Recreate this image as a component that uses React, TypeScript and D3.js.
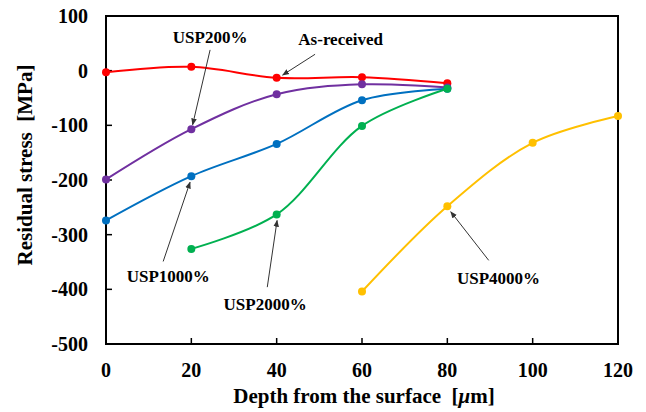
import React from "react";
import * as d3 from "d3";

// depth in µm, residual stress in MPa
const asReceivedX = [0, 20, 40, 60, 80];
const asReceivedY = [-3, 7, -13, -12, -23];
const usp200X = [0, 20, 40, 60, 80];
const usp200Y = [-199, -107, -43, -25, -31];
const usp1000X = [0, 20, 40, 60, 80];
const usp1000Y = [-274, -193, -134, -54, -33];
const usp2000X = [20, 40, 60, 80];
const usp2000Y = [-326, -263, -101, -33];
const usp4000X = [60, 80, 100, 120];
const usp4000Y = [-404, -248, -132, -83];

const xTicks = [0, 20, 40, 60, 80, 100, 120];
const yTicks = [100, 0, -100, -200, -300, -400, -500];

const series = [
  { name: "As-received", xs: asReceivedX, ys: asReceivedY, color: "#ff0000" },
  { name: "USP200%", xs: usp200X, ys: usp200Y, color: "#7030a0" },
  { name: "USP1000%", xs: usp1000X, ys: usp1000Y, color: "#0070c0" },
  { name: "USP2000%", xs: usp2000X, ys: usp2000Y, color: "#00b050" },
  { name: "USP4000%", xs: usp4000X, ys: usp4000Y, color: "#ffc000" },
];

// label text position and arrow (tail -> tip), in data units
const notes = [
  { text: "USP200%", tx: 24.4, ty: 51, x1: 24.4, y1: 38, x2: 20.3, y2: -99 },
  { text: "As-received", tx: 55, ty: 47, x1: 49, y1: 30, x2: 41.4, y2: -8 },
  { text: "USP1000%", tx: 14.6, ty: -386, x1: 13.4, y1: -349, x2: 19.7, y2: -204 },
  { text: "USP2000%", tx: 37.3, ty: -437, x1: 37.8, y1: -396, x2: 40.1, y2: -274 },
  { text: "USP4000%", tx: 92, ty: -391, x1: 89.7, y1: -347, x2: 80.8, y2: -258 },
];

const W = 646;
const H = 412;
const margin = { top: 16, right: 28, bottom: 68, left: 106 };

export default function App() {
  const innerW = W - margin.left - margin.right;
  const innerH = H - margin.top - margin.bottom;
  const x = d3.scaleLinear().domain([0, 120]).range([0, innerW]);
  const y = d3.scaleLinear().domain([-500, 100]).range([innerH, 0]);

  const line = d3
    .line<[number, number]>()
    .x((d) => x(d[0]))
    .y((d) => y(d[1]))
    .curve(d3.curveCatmullRom.alpha(0.5));

  const font = "'Liberation Serif', 'Times New Roman', serif";

  return (
    <svg
      width={W}
      height={H}
      style={{ position: "absolute", left: 0, top: 0, background: "#fff" }}
      fontFamily={font}
      fontWeight="bold"
    >
      <defs>
        <marker id="arrow" viewBox="0 0 10 10" refX="9" refY="5" markerWidth="7" markerHeight="7" orient="auto">
          <path d="M0,1 L10,5 L0,9 z" fill="#333" />
        </marker>
      </defs>
      <g transform={`translate(${margin.left},${margin.top})`}>
        {/* frame */}
        <rect x={0} y={0} width={innerW} height={innerH} fill="none" stroke="#000" strokeWidth={2} />
        {/* ticks */}
        {xTicks.map((t) => (
          <g key={"x" + t}>
            <line x1={x(t)} x2={x(t)} y1={innerH} y2={innerH - 6} stroke="#000" strokeWidth={1.5} />
            <text x={x(t)} y={innerH + 33} textAnchor="middle" fontSize={20}>
              {t}
            </text>
          </g>
        ))}
        {yTicks.map((t) => (
          <g key={"y" + t}>
            <line x1={0} x2={6} y1={y(t)} y2={y(t)} stroke="#000" strokeWidth={1.5} />
            <text x={-18} y={y(t)} dy="0.35em" textAnchor="end" fontSize={20}>
              {t}
            </text>
          </g>
        ))}

        {/* series */}
        {series.map((s) => {
          const pts = s.xs.map((v, i) => [v, s.ys[i]] as [number, number]);
          return (
            <g key={s.name}>
              <path d={line(pts) || ""} fill="none" stroke={s.color} strokeWidth={2} />
              {pts.map((p, i) => (
                <circle key={i} cx={x(p[0])} cy={y(p[1])} r={4} fill={s.color} />
              ))}
            </g>
          );
        })}

        {/* annotations */}
        {notes.map((n) => (
          <g key={n.text}>
            <line
              x1={x(n.x1)}
              y1={y(n.y1)}
              x2={x(n.x2)}
              y2={y(n.y2)}
              stroke="#333"
              strokeWidth={1}
              markerEnd="url(#arrow)"
            />
            <text x={x(n.tx)} y={y(n.ty)} textAnchor="middle" fontSize={17}>
              {n.text}
            </text>
          </g>
        ))}
      </g>

      {/* axis titles */}
      <text x={364} y={403} textAnchor="middle" fontSize={21}>
        Depth from the surface{"\u00a0\u00a0"}[<tspan fontStyle="italic">μ</tspan>m]
      </text>
      <text transform={`translate(32,165) rotate(-90)`} textAnchor="middle" fontSize={21}>
        Residual stress{"\u00a0\u00a0"}[MPa]
      </text>
    </svg>
  );
}
